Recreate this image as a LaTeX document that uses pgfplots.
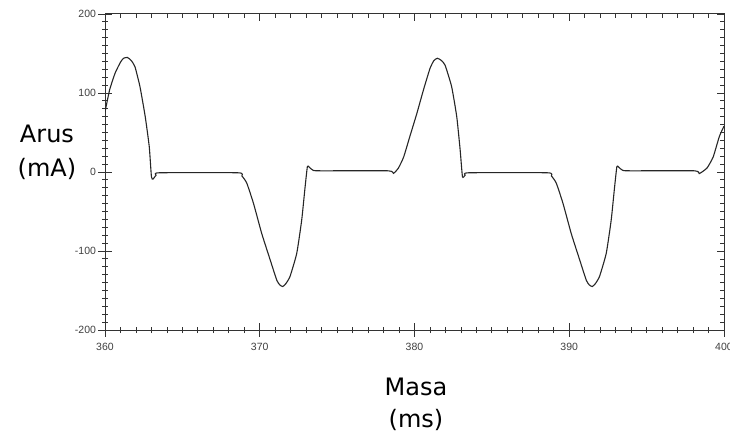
\documentclass[border=0pt]{standalone}
\usepackage{fontspec}
\setmainfont{Liberation Sans}
\newfontfamily\labfont{DejaVu Sans}
\usepackage{pgfplots}
\pgfplotsset{compat=1.18}

\pgfplotstableread{
t       i
360.00  76
360.30  104
360.65  125
361.00  139
361.20  144
361.45  145
361.70  141
361.94  133
362.26  108
362.60  70
362.86  32
363.00  -6
363.10  -9
363.30  -4
363.50  -1
368.60  -1
368.85  -5
369.16  -14
369.60  -40
370.13  -78
370.67  -111
371.10  -137
371.30  -143
371.49  -145
371.70  -141
371.96  -132
372.39  -103
372.71  -61
372.93  -19
373.08  7
373.20  6
373.46  2
374.00  1.5
378.30  1.5
378.64  -1.7
378.96  5
379.30  19
379.70  45
380.15  74
380.58  104
381.00  131
381.25  141
381.48  144
381.75  141
381.98  135
382.40  108
382.73  70
382.95  28
383.10  -6
383.27  -4
383.50  -1
388.60  -1
388.85  -5
389.16  -14
389.60  -40
390.13  -78
390.67  -111
391.10  -137
391.30  -143
391.49  -145
391.70  -141
391.96  -132
392.39  -103
392.71  -61
392.93  -19
393.08  7
393.20  6
393.46  2
394.00  1.5
398.10  1.5
398.40  -2
398.90  5
399.30  19
399.70  45
400.00  58
}\current

\begin{document}
\begin{tikzpicture}
\path[use as bounding box, fill=white] (-105pt,-106pt) rectangle (625pt,330pt);
% main axis: ticks across the bottom and left lines
\begin{axis}[
    at={(0pt,0pt)}, anchor=south west,
    width=619pt, height=316pt, scale only axis,
    xmin=360, xmax=400, ymin=-200, ymax=200,
    xtick={360,370,...,400}, ytick={-200,-100,...,200},
    minor x tick num=9, minor y tick num=9,
    xtick pos=bottom, ytick pos=left,
    tick align=center,
    major tick length=13pt, minor tick length=6pt,
    tick style={black!80, line width=0.8pt},
    axis line style={black!80, line width=1pt},
    /pgf/number format/assume math mode=true,
    /pgf/number format/1000 sep={},
    ticklabel style={font=\fontsize{10.5}{12}\selectfont, text=black!75},
    xticklabel style={yshift=-3pt},
    yticklabel style={xshift=1pt},
]
\addplot[black!85, line width=1.1pt, smooth, tension=0.3] table[x=t, y=i] {\current};
\end{axis}
% mirrored ticks on the top and right lines, pointing inward
\begin{axis}[
    at={(0pt,0pt)}, anchor=south west,
    width=619pt, height=316pt, scale only axis,
    xmin=360, xmax=400, ymin=-200, ymax=200,
    xtick={360,370,...,400}, ytick={-200,-100,...,200},
    minor x tick num=9, minor y tick num=9,
    xtick pos=top, ytick pos=right,
    xticklabels={}, yticklabels={},
    tick align=inside,
    major tick length=7pt, minor tick length=4pt,
    tick style={black!80, line width=0.8pt},
    axis line style={draw=none},
]
\end{axis}
\node[font=\labfont\fontsize{24}{32}\selectfont, anchor=base] at (-58pt,187pt) {Arus};
\node[font=\labfont\fontsize{24}{32}\selectfont, anchor=base] at (-58pt,153pt) {(mA)};
\node[font=\labfont\fontsize{24}{32}\selectfont, anchor=base] at (311pt,-65pt) {Masa};
\node[font=\labfont\fontsize{24}{32}\selectfont, anchor=base] at (311pt,-97pt) {(ms)};
\end{tikzpicture}
\end{document}
